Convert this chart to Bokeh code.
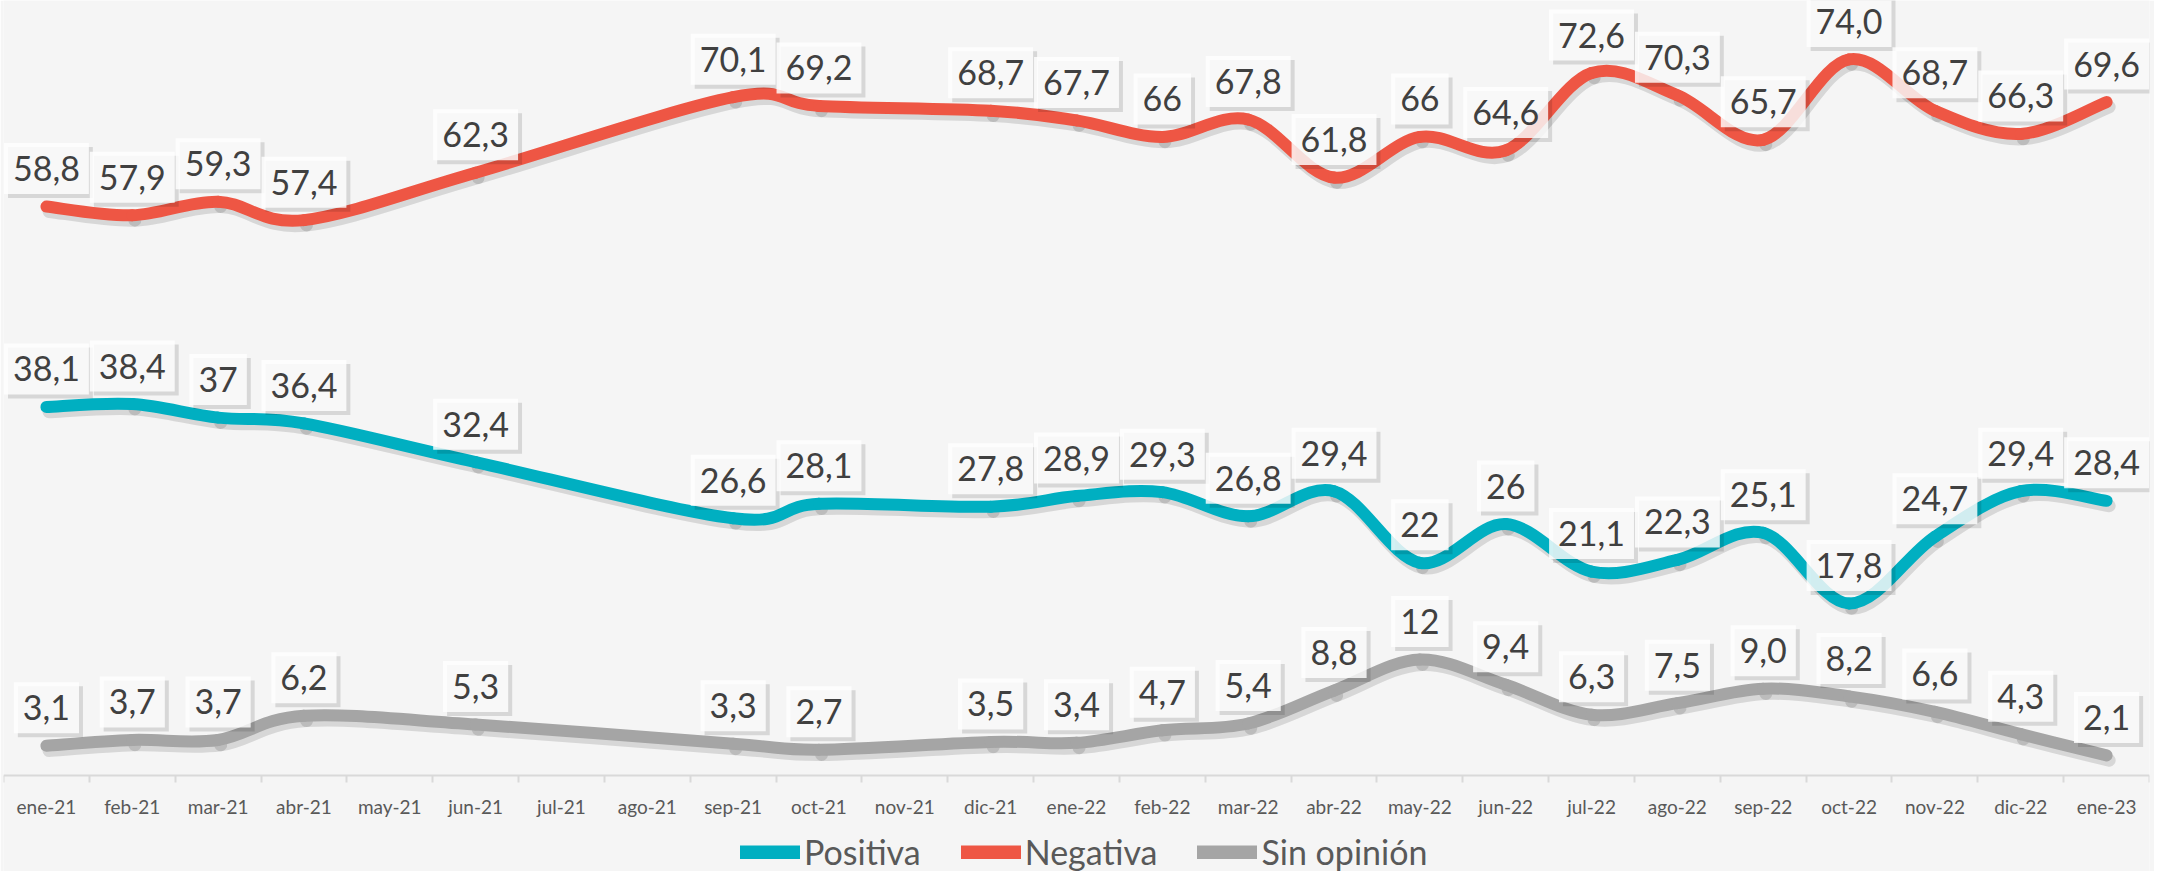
import numpy as np
from bokeh.plotting import figure
from bokeh.models import Range1d, FixedTicker, Legend, LegendItem, ColumnDataSource
from bokeh.core.properties import value
from bokeh.embed import file_html
from bokeh.resources import INLINE

nan = float("nan")

months = ["ene-21", "feb-21", "mar-21", "abr-21", "may-21", "jun-21", "jul-21", "ago-21",
          "sep-21", "oct-21", "nov-21", "dic-21", "ene-22", "feb-22", "mar-22", "abr-22",
          "may-22", "jun-22", "jul-22", "ago-22", "sep-22", "oct-22", "nov-22", "dic-22", "ene-23"]

positiva = [38.1, 38.4, 37.0, 36.4, nan, 32.4, nan, nan, 26.6, 28.1, nan, 27.8, 28.9,
            29.3, 26.8, 29.4, 22.0, 26.0, 21.1, 22.3, 25.1, 17.8, 24.7, 29.4, 28.4]
negativa = [58.8, 57.9, 59.3, 57.4, nan, 62.3, nan, nan, 70.1, 69.2, nan, 68.7, 67.7,
            66.0, 67.8, 61.8, 66.0, 64.6, 72.6, 70.3, 65.7, 74.0, 68.7, 66.3, 69.6]
sin_opinion = [3.1, 3.7, 3.7, 6.2, nan, 5.3, nan, nan, 3.3, 2.7, nan, 3.5, 3.4,
               4.7, 5.4, 8.8, 12.0, 9.4, 6.3, 7.5, 9.0, 8.2, 6.6, 4.3, 2.1]

labels_positiva = ["38,1", "38,4", "37", "36,4", "", "32,4", "", "", "26,6", "28,1", "", "27,8", "28,9",
                   "29,3", "26,8", "29,4", "22", "26", "21,1", "22,3", "25,1", "17,8", "24,7", "29,4", "28,4"]
labels_negativa = ["58,8", "57,9", "59,3", "57,4", "", "62,3", "", "", "70,1", "69,2", "", "68,7", "67,7",
                   "66", "67,8", "61,8", "66", "64,6", "72,6", "70,3", "65,7", "74,0", "68,7", "66,3", "69,6"]
labels_sin = ["3,1", "3,7", "3,7", "6,2", "", "5,3", "", "", "3,3", "2,7", "", "3,5", "3,4",
              "4,7", "5,4", "8,8", "12", "9,4", "6,3", "7,5", "9,0", "8,2", "6,6", "4,3", "2,1"]

series_names = ["Positiva", "Negativa", "Sin opinión"]
series_values = [positiva, negativa, sin_opinion]
series_labels = [labels_positiva, labels_negativa, labels_sin]
series_colors = ["#00AFC1", "#EE5644", "#A5A5A5"]

BG = "#F5F5F5"
FONT = "Lato"

p = figure(width=2154, height=871, output_backend="svg", toolbar_location=None,
           x_range=Range1d(-0.5, len(months) - 0.5), y_range=Range1d(-9.89, 80.09),
           y_axis_location=None, min_border_left=3, min_border_right=5,
           min_border_top=0, min_border_bottom=0)
p.background_fill_color = BG
p.border_fill_color = BG
p.outline_line_color = None
p.xgrid.visible = False
p.ygrid.visible = False

ax = p.xaxis[0]
ax.fixed_location = 0
ax.ticker = FixedTicker(ticks=list(range(len(months))),
                        minor_ticks=[i - 0.5 for i in range(len(months) + 1)])
ax.major_label_overrides = {i: m for i, m in enumerate(months)}
ax.major_tick_line_color = None
ax.major_tick_out = 0
ax.major_tick_in = 0
ax.minor_tick_in = 0
ax.minor_tick_out = 7
ax.minor_tick_line_color = "#D9D9D9"
ax.minor_tick_line_width = 2
ax.axis_line_color = "#D9D9D9"
ax.axis_line_width = 2
ax.major_label_standoff = 12
ax.major_label_text_font = FONT
ax.major_label_text_font_size = "19px"
ax.major_label_text_color = "#595959"


def smooth_segments(vals, dx=0.0, dy=0.0):
    xs = np.array([i for i, v in enumerate(vals) if not np.isnan(v)], dtype=float)
    ys = np.array([v for v in vals if not np.isnan(v)], dtype=float)
    n = len(xs)
    d = {k: [] for k in ["x0", "y0", "x1", "y1", "cx0", "cy0", "cx1", "cy1"]}
    for i in range(n - 1):
        im1 = max(i - 1, 0)
        ip2 = min(i + 2, n - 1)
        d["x0"].append(xs[i] + dx)
        d["y0"].append(ys[i] + dy)
        d["x1"].append(xs[i + 1] + dx)
        d["y1"].append(ys[i + 1] + dy)
        d["cx0"].append(xs[i] + (xs[i + 1] - xs[im1]) / 6 + dx)
        d["cy0"].append(ys[i] + (ys[i + 1] - ys[im1]) / 6 + dy)
        d["cx1"].append(xs[i + 1] - (xs[ip2] - xs[i]) / 6 + dx)
        d["cy1"].append(ys[i + 1] - (ys[ip2] - ys[i]) / 6 + dy)
    return ColumnDataSource(d)


# line shadows
for vals in series_values:
    p.bezier(x0="x0", y0="y0", x1="x1", y1="y1", cx0="cx0", cy0="cy0", cx1="cx1", cy1="cy1",
             source=smooth_segments(vals, dx=0.03, dy=-0.5),
             line_color="#000000", line_alpha=0.12, line_width=13, line_cap="round")

# lines
legend_items = []
for name, vals, color in zip(series_names, series_values, series_colors):
    p.bezier(x0="x0", y0="y0", x1="x1", y1="y1", cx0="cx0", cy0="cy0", cx1="cx1", cy1="cy1",
             source=smooth_segments(vals), line_color=color, line_width=12, line_cap="round")
    dummy = p.line(x=[nan], y=[nan], line_color=color, line_width=14, line_cap="round")
    legend_items.append(LegendItem(label=name, renderers=[dummy]))

# data labels
for vals, labs in zip(series_values, series_labels):
    xs = [i for i, v in enumerate(vals) if not np.isnan(v)]
    ys = [v for v in vals if not np.isnan(v)]
    ts = [labs[i] for i in xs]
    src = ColumnDataSource(dict(x=xs, y=ys, t=ts))
    p.text(x="x", y="y", text="t", source=src, text_font=value(FONT), text_font_size="34px",
           text_alpha=0, text_align="center", text_baseline="middle",
           x_offset=4, y_offset=-34, background_fill_color="#000000",
           background_fill_alpha=0.12, padding=dict(x=9, y=13))
    p.text(x="x", y="y", text="t", source=src, text_font=value(FONT), text_font_size="34px",
           text_color="#404040", text_align="center", text_baseline="middle",
           y_offset=-38, background_fill_color="#FFFFFF", background_fill_alpha=0.82,
           padding=dict(x=9, y=13))

legend = Legend(items=legend_items, location=(737, -1), orientation="horizontal",
                label_text_font=FONT, label_text_font_size="34px", label_text_color="#595959",
                glyph_width=60, glyph_height=14, label_standoff=4, spacing=40,
                padding=0, margin=0, border_line_color=None, background_fill_alpha=0)
p.add_layout(legend)

open("out.html", "w").write(file_html(p, INLINE))
